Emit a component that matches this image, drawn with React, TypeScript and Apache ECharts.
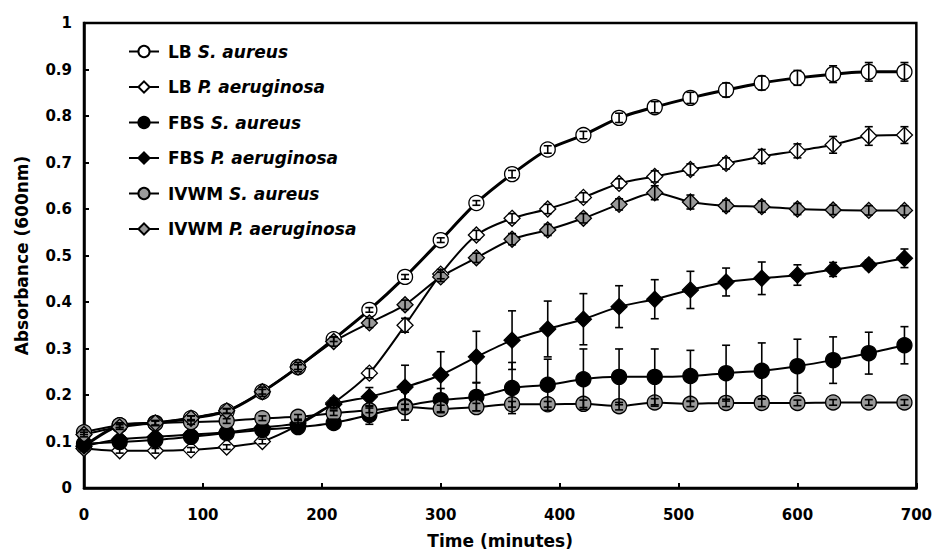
import React, { useEffect, useRef } from "react";
import * as echarts from "echarts";

const times = [0, 30, 60, 90, 120, 150, 180, 210, 240, 270, 300, 330, 360, 390, 420, 450, 480, 510, 540, 570, 600, 630, 660, 690];

const lbSa = [0.09, 0.135, 0.14, 0.15, 0.165, 0.207, 0.26, 0.32, 0.383, 0.454, 0.533, 0.613, 0.675, 0.728, 0.759, 0.796, 0.819, 0.839, 0.856, 0.871, 0.882, 0.89, 0.895, 0.895];
const lbSaErr = [0.005, 0.005, 0.005, 0.005, 0.005, 0.005, 0.005, 0.005, 0.005, 0.005, 0.005, 0.005, 0.008, 0.008, 0.008, 0.01, 0.012, 0.012, 0.015, 0.015, 0.016, 0.018, 0.02, 0.02];

const lbPa = [0.085, 0.08, 0.08, 0.082, 0.088, 0.1, 0.135, 0.183, 0.247, 0.35, 0.46, 0.544, 0.58, 0.6, 0.625, 0.655, 0.67, 0.685, 0.698, 0.713, 0.725, 0.738, 0.757, 0.759];
const lbPaErr = [0.005, 0.005, 0.005, 0.005, 0.005, 0.005, 0.005, 0.01, 0.01, 0.015, 0.01, 0.01, 0.01, 0.01, 0.01, 0.01, 0.012, 0.012, 0.012, 0.015, 0.015, 0.018, 0.02, 0.018];

const fbsSa = [0.095, 0.099, 0.103, 0.11, 0.118, 0.125, 0.131, 0.14, 0.157, 0.176, 0.189, 0.196, 0.215, 0.222, 0.234, 0.239, 0.239, 0.241, 0.247, 0.252, 0.262, 0.275, 0.29, 0.307];
const fbsSaErr = [0.005, 0.005, 0.005, 0.005, 0.005, 0.005, 0.005, 0.008, 0.02, 0.03, 0.025, 0.03, 0.055, 0.055, 0.065, 0.06, 0.06, 0.055, 0.06, 0.06, 0.058, 0.05, 0.045, 0.04];

const fbsPa = [0.09, 0.105, 0.11, 0.115, 0.12, 0.13, 0.14, 0.18, 0.196, 0.217, 0.243, 0.282, 0.318, 0.342, 0.363, 0.39, 0.406, 0.426, 0.443, 0.451, 0.458, 0.47, 0.48, 0.494];
const fbsPaErr = [0.005, 0.005, 0.005, 0.005, 0.005, 0.005, 0.005, 0.01, 0.02, 0.047, 0.05, 0.055, 0.063, 0.06, 0.055, 0.045, 0.042, 0.04, 0.03, 0.035, 0.022, 0.015, 0.01, 0.02];

const ivwmSa = [0.12, 0.135, 0.139, 0.142, 0.144, 0.15, 0.153, 0.161, 0.167, 0.174, 0.17, 0.174, 0.18, 0.18, 0.181, 0.176, 0.184, 0.181, 0.183, 0.183, 0.183, 0.184, 0.184, 0.184];
const ivwmSaErr = [0.005, 0.005, 0.005, 0.005, 0.005, 0.005, 0.005, 0.005, 0.005, 0.006, 0.008, 0.008, 0.006, 0.006, 0.008, 0.008, 0.008, 0.006, 0.008, 0.008, 0.006, 0.006, 0.006, 0.006];

const ivwmPa = [0.115, 0.131, 0.14, 0.15, 0.166, 0.207, 0.26, 0.315, 0.355, 0.394, 0.454, 0.495, 0.535, 0.555, 0.58, 0.61, 0.635, 0.615, 0.607, 0.605, 0.6, 0.598, 0.597, 0.597];
const ivwmPaErr = [0.005, 0.005, 0.005, 0.005, 0.005, 0.01, 0.01, 0.01, 0.01, 0.01, 0.01, 0.01, 0.012, 0.012, 0.01, 0.012, 0.015, 0.015, 0.012, 0.012, 0.012, 0.01, 0.01, 0.01];

const names = ["LB S. aureus", "LB P. aeruginosa", "FBS S. aureus", "FBS P. aeruginosa", "IVWM S. aureus", "IVWM P. aeruginosa"];

const GRAY = "#9a9a9a";
const FONT = "'DejaVu Sans', 'Liberation Sans', Arial, sans-serif";

function lineSeries(name: string, vals: number[], symbol: string, fill: string, lineWidth: number, size: number, z: number) {
  return {
    type: "line",
    name,
    data: times.map((t, i) => [t, vals[i]]),
    symbol,
    symbolSize: size,
    smooth: 0.25,
    z,
    lineStyle: { color: "#000", width: lineWidth },
    itemStyle: { color: fill, borderColor: "#000", borderWidth: 1.3 },
  };
}

function errSeries(name: string, vals: number[], errs: number[], z: number) {
  return {
    type: "custom",
    name: name + " err",
    z,
    silent: true,
    data: times.map((t, i) => [t, vals[i], errs[i]]),
    encode: { x: 0, y: 1 },
    renderItem: (params: any, api: any) => {
      const x = api.value(0);
      const y = api.value(1);
      const e = api.value(2);
      const hi = api.coord([x, y + e]);
      const lo = api.coord([x, y - e]);
      const w = 4;
      const st = { stroke: "#000", lineWidth: 1.6 };
      return {
        type: "group",
        children: [
          { type: "line", shape: { x1: hi[0], y1: hi[1], x2: lo[0], y2: lo[1] }, style: st },
          { type: "line", shape: { x1: hi[0] - w, y1: hi[1], x2: hi[0] + w, y2: hi[1] }, style: st },
          { type: "line", shape: { x1: lo[0] - w, y1: lo[1], x2: lo[0] + w, y2: lo[1] }, style: st },
        ],
      };
    },
  };
}

export default function App() {
  const ref = useRef<HTMLDivElement>(null);
  useEffect(() => {
    if (!ref.current) return;
    const chart = echarts.init(ref.current, null, { renderer: "svg" });
    chart.setOption({
      animation: false,
      backgroundColor: "#fff",
      grid: { left: 84, right: 18, top: 23, bottom: 67, show: true, borderColor: "#000", borderWidth: 2.5 },
      legend: {
        data: names,
        orient: "vertical",
        left: 123,
        top: 38,
        itemWidth: 30,
        itemHeight: 14,
        itemGap: 18.5,
        textStyle: {
          fontFamily: FONT,
          fontSize: 17,
          fontWeight: "bold",
          color: "#000",
          rich: {
            n: { fontFamily: FONT, fontSize: 17, fontWeight: "bold", color: "#000", padding: [0, 0, 0, 4] },
            i: { fontFamily: FONT, fontSize: 17, fontWeight: "bold", fontStyle: "italic", color: "#000" },
          },
        },
        formatter: (name: string) => {
          const parts = name.split(" ");
          return `{n|${parts[0]} }{i|${parts.slice(1).join(" ")}}`;
        },
      },
      xAxis: {
        type: "value",
        min: 0,
        max: 700,
        interval: 100,
        name: "Time (minutes)",
        nameLocation: "middle",
        nameGap: 44,
        nameTextStyle: { fontFamily: FONT, fontSize: 17, fontWeight: "bold", color: "#000" },
        axisLine: { show: true, lineStyle: { color: "#000", width: 2.5 } },
        axisTick: { show: true, inside: true, length: 5, lineStyle: { color: "#000", width: 2 } },
        axisLabel: { fontFamily: FONT, fontSize: 15, fontWeight: "bold", color: "#000", margin: 19 },
        splitLine: { show: false },
      },
      yAxis: {
        type: "value",
        min: 0,
        max: 1,
        interval: 0.1,
        name: "Absorbance (600nm)",
        nameLocation: "middle",
        nameGap: 54,
        nameRotate: 90,
        nameTextStyle: { fontFamily: FONT, fontSize: 17, fontWeight: "bold", color: "#000" },
        axisLine: { show: true, lineStyle: { color: "#000", width: 2.5 } },
        axisTick: { show: true, inside: true, length: 5, lineStyle: { color: "#000", width: 2 } },
        axisLabel: {
          fontFamily: FONT,
          fontSize: 15,
          fontWeight: "bold",
          color: "#000",
          margin: 12,
          formatter: (v: number) => (v === 0 ? "0" : Math.abs(v - 1) < 1e-9 ? "1" : v.toFixed(1)),
        },
        splitLine: { show: false },
      },
      series: [
        lineSeries(names[0], lbSa, "circle", "#fff", 3, 15, 3),
        lineSeries(names[1], lbPa, "diamond", "#fff", 2, 16, 3),
        lineSeries(names[2], fbsSa, "circle", "#000", 2, 15, 3),
        lineSeries(names[3], fbsPa, "diamond", "#000", 2, 16, 3),
        lineSeries(names[4], ivwmSa, "circle", GRAY, 2, 15, 3),
        lineSeries(names[5], ivwmPa, "diamond", GRAY, 2, 16, 3),
        errSeries(names[0], lbSa, lbSaErr, 5),
        errSeries(names[1], lbPa, lbPaErr, 5),
        errSeries(names[2], fbsSa, fbsSaErr, 5),
        errSeries(names[3], fbsPa, fbsPaErr, 5),
        errSeries(names[4], ivwmSa, ivwmSaErr, 5),
        errSeries(names[5], ivwmPa, ivwmPaErr, 5),
      ],
    });
    return () => chart.dispose();
  }, []);
  return <div ref={ref} style={{ position: "fixed", left: 0, top: 0, width: 935, height: 555 }} />;
}
